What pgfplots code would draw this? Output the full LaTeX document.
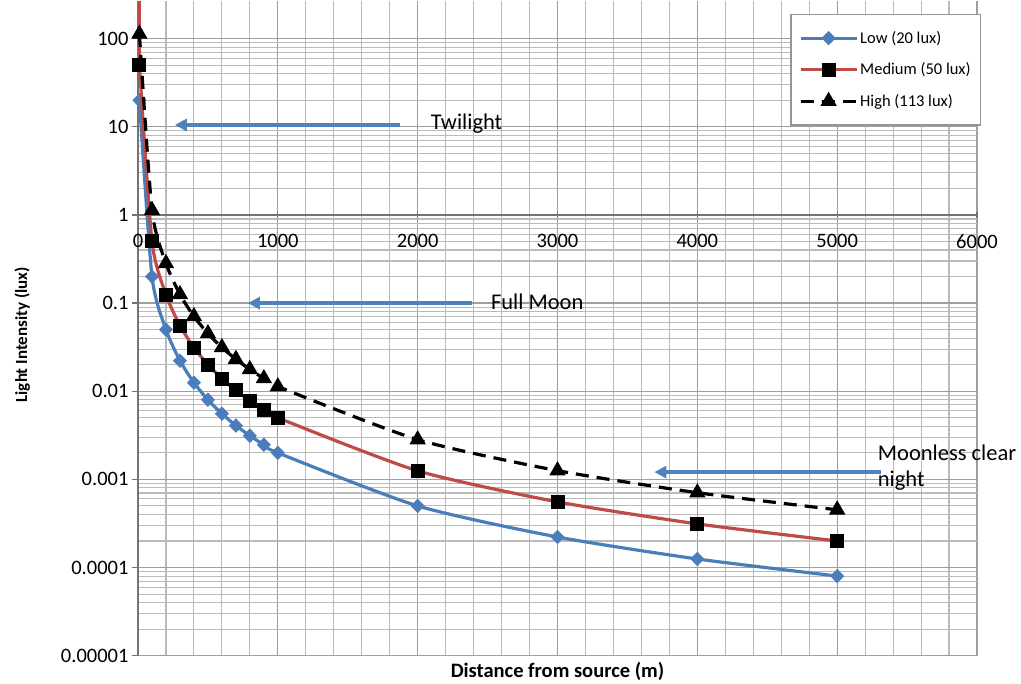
\documentclass[border=0pt]{standalone}
\usepackage{pgfplots}
\pgfplotsset{compat=1.18}
\usepackage{fontspec}
\setmainfont{Carlito}
\usetikzlibrary{arrows.meta}

\definecolor{lowblue}{HTML}{4A7EBB}
\definecolor{medred}{HTML}{BE4B48}
\definecolor{arrowblue}{HTML}{4F81BD}
\definecolor{gridgray}{HTML}{BABABA}

\begin{document}
\begin{tikzpicture}
\begin{axis}[
  name=ax,
  scale only axis,
  width=839bp, height=655bp,
  xmin=0, xmax=6000,
  ymode=log, ymin=1e-5, ymax=270,
  axis x line=middle,
  axis y line=left,
  axis line style={-, draw=black!55, line width=1.2bp},
  hide obscured x ticks=false,
  xtick={0,1000,2000,3000,4000,5000,6000},
  xticklabels={0,1000,2000,3000,4000,5000,6000},
  minor x tick num=4,
  ytick={1e-5,1e-4,1e-3,1e-2,1e-1,1,10,100},
  yticklabels={0.00001,0.0001,0.001,0.01,0.1,1,10,100},
  grid=both,
  major grid style={draw=gridgray!85!black, line width=1.3bp},
  minor grid style={draw=gridgray, line width=1.1bp},
  major tick length=6bp,
  minor tick length=0bp,
  tick style={draw=black!55, line width=1.2bp},
  xtick align=center,
  ytick align=outside,
  xticklabel style={font=\fontsize{20.5bp}{24bp}\selectfont, yshift=-13bp},
  yticklabel style={font=\fontsize{20.5bp}{24bp}\selectfont},
  xlabel={\textbf{Distance from source (m)}},
  ylabel={\textbf{Light Intensity (lux)}},
  xlabel style={at={(rel axis cs:0.5,-0.004)}, anchor=north, font=\fontsize{20.5bp}{24bp}\selectfont},
  ylabel style={at={(rel axis cs:-0.138,0.49)}, anchor=center, rotate=0, font=\fontsize{17bp}{20bp}\selectfont},
  legend style={at={(rel axis cs:1.005,0.98)}, anchor=north east,
    draw=gridgray!80!black, line width=1.2bp, fill=white,
    font=\fontsize{16.5bp}{20bp}\selectfont,
    row sep=14bp, inner xsep=8bp, inner ysep=15bp,
    cells={anchor=west}},
  legend image code/.code={\draw[mark repeat=2,mark phase=2] plot coordinates {(0bp,0bp)(28bp,0bp)(56bp,0bp)};},
  clip mode=individual,
]
% short red rise above the first medium point
\addplot[medred, line width=3.2bp, forget plot] coordinates {(10,270)(10,50)};

\addplot[lowblue, line width=3.2bp, smooth, tension=0.4, mark=diamond*, mark size=6.5bp,
  mark options={solid, fill=lowblue, draw=lowblue, line width=1bp, xscale=1.3}] coordinates {
  (10,20)(100,0.2)(200,0.05)(300,0.0222)(400,0.0125)(500,0.008)(600,0.00556)
  (700,0.00408)(800,0.003125)(900,0.00247)(1000,0.002)(2000,0.0005)
  (3000,0.000222)(4000,0.000125)(5000,0.00008)
};
\addlegendentry{Low (20 lux)}

\addplot[medred, line width=3.2bp, smooth, tension=0.4, mark=square*, mark size=6.5bp,
  mark options={solid, fill=black, draw=black, line width=1bp}] coordinates {
  (10,50)(100,0.5)(200,0.125)(300,0.0556)(400,0.03125)(500,0.02)(600,0.0139)
  (700,0.0102)(800,0.0078)(900,0.00617)(1000,0.005)(2000,0.00125)
  (3000,0.000556)(4000,0.0003125)(5000,0.0002)
};
\addlegendentry{Medium (50 lux)}

\addplot[black, line width=3.2bp, dash pattern=on 13bp off 8bp, smooth, tension=0.4,
  mark=triangle*, mark size=8.5bp, mark options={solid, fill=black, line width=1bp}] coordinates {
  (10,113)(100,1.13)(200,0.2825)(300,0.1256)(400,0.0706)(500,0.0452)(600,0.0314)
  (700,0.0231)(800,0.0177)(900,0.01395)(1000,0.0113)(2000,0.002825)
  (3000,0.001256)(4000,0.000706)(5000,0.000452)
};
\addlegendentry{High (113 lux)}

% annotations
\draw[arrowblue, line width=3.2bp, -{Triangle[length=12bp,width=12bp]}] (axis cs:1871,10.5) -- (axis cs:264,10.5);
\node[anchor=west, font=\fontsize{22.5bp}{26bp}\selectfont] at (axis cs:2070,10.9) {Twilight};
\draw[arrowblue, line width=3.2bp, -{Triangle[length=12bp,width=12bp]}] (axis cs:2386,0.1) -- (axis cs:786,0.1);
\node[anchor=west, font=\fontsize{22.5bp}{26bp}\selectfont] at (axis cs:2500,0.103) {Full Moon};
\draw[arrowblue, line width=3.2bp, -{Triangle[length=12bp,width=12bp]}] (axis cs:5314,0.00121) -- (axis cs:3693,0.00121);
\node[anchor=north west, align=left, font=\fontsize{22.5bp}{26bp}\selectfont, inner sep=0pt] at (axis cs:5290,0.0025) {Moonless clear\\night};
\end{axis}
\path (ax.south west) ++(-138bp,-25bp);
\path (ax.north east) ++(44bp,0bp);
\end{tikzpicture}
\end{document}
